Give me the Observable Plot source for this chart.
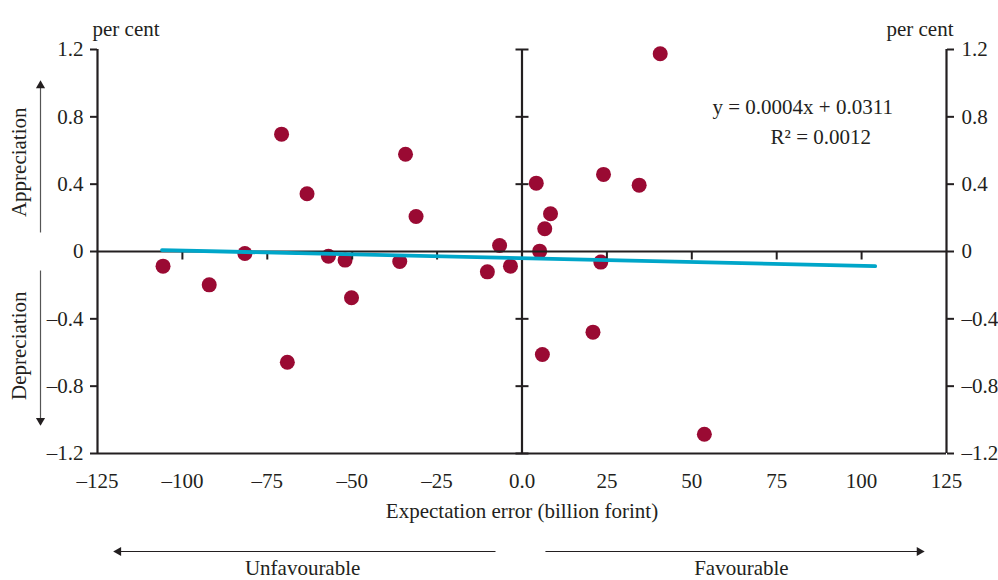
<!DOCTYPE html>
<html>
<head>
<meta charset="utf-8">
<script src="https://cdn.jsdelivr.net/npm/d3@7"></script>
<script src="https://cdn.jsdelivr.net/npm/@observablehq/plot@0.6"></script>
<style>
  html, body { margin: 0; padding: 0; background: #ffffff; }
  #chart { width: 998px; height: 580px; }
</style>
</head>
<body>
<div id="chart"></div>
<script>
// ---- data ----
const expectationError = [-105.7, -92.1, -81.6, -70.8, -69.1, -63.3, -57.0, -52.1, -50.2, -36.0, -34.3, -31.2, -10.2, -6.6, -3.4, 4.2, 5.2, 6.7, 8.4, 6.0, 20.9, 23.2, 24.0, 34.5, 40.7, 53.7];
const exchangeRateChange = [-0.087, -0.198, -0.012, 0.697, -0.658, 0.343, -0.028, -0.051, -0.275, -0.059, 0.578, 0.208, -0.121, 0.036, -0.087, 0.406, 0.002, 0.135, 0.224, -0.612, -0.479, -0.063, 0.458, 0.394, 1.175, -1.086];
const trendX = [-106, 104];
const trendY = [0.008, -0.087];
const xTicks = [-125, -100, -75, -50, -25, 0, 25, 50, 75, 100, 125];
const yTicks = [-1.2, -0.8, -0.4, 0, 0.4, 0.8, 1.2];
const innerXTicks = [-100, -75, -50, -25, 25, 50, 75, 100];
const innerYTicks = [-1.2, -0.8, -0.4, 0.4, 0.8, 1.2];
const equationLines = ["y = 0.0004x + 0.0311", "R\u00B2 = 0.0012"];
const equationX = [56.1, 73.2];
const equationY = [0.858, 0.68];
const directionLabels = ["Unfavourable", "Favourable"];
const directionX = [-64.6, 64.6];
const directionArrowFrom = [-7.8, 6.9];
const directionArrowTo = [-119.7, 117.9];
const moveLabels = ["Appreciation", "Depreciation"];
const moveLabelY = [0.53, -0.56];
const moveArrowFrom = [0.113, -0.113];
const moveArrowTo = [1.004, -1.022];

// ---- derived tables ----
const points = expectationError.map((x, i) => ({x, y: exchangeRateChange[i]}));
const trend = trendX.map((x, i) => ({x, y: trendY[i]}));
const eq = equationLines.map((t, i) => ({t, x: equationX[i], y: equationY[i]}));
const dirs = directionLabels.map((t, i) => ({t, x: directionX[i], from: directionArrowFrom[i], to: directionArrowTo[i]}));
const moves = moveLabels.map((t, i) => ({t, y: moveLabelY[i], from: moveArrowFrom[i], to: moveArrowTo[i]}));

const ink = "#231f20";
const dash = v => (v < 0 ? "\u2013" : "") + Math.abs(v);
const fmtX = v => v === 0 ? "0.0" : dash(v);
const fmtY = v => v === 0 ? "0" : dash(v);

const hTick = {draw(ctx, size) { const r = Math.sqrt(size / Math.PI); ctx.moveTo(-r, 0); ctx.lineTo(r, 0); }};
const vTickDown = {draw(ctx, size) { const r = Math.sqrt(size / Math.PI); ctx.moveTo(0, 0); ctx.lineTo(0, r); }};

const chart = Plot.plot({
  width: 998,
  height: 580,
  marginLeft: 97,
  marginRight: 52,
  marginTop: 49,
  marginBottom: 127,
  style: {fontFamily: "'Liberation Serif', 'Times New Roman', serif", fontSize: "21px", color: ink, background: "#ffffff"},
  x: {domain: [-125, 125]},
  y: {domain: [-1.2, 1.2]},
  marks: [
    Plot.dot(points, {x: "x", y: "y", r: 7.5, fill: "#9a0a33"}),
    Plot.ruleX([-125, 0, 125], {y1: -1.2, y2: 1.2, stroke: ink, strokeWidth: 2.2}),
    Plot.ruleY([-1.2, 0], {x1: -125, x2: 125, stroke: ink, strokeWidth: 2.2}),
    Plot.dot(innerYTicks, {x: 0, y: d => d, symbol: hTick, r: 6.5, stroke: ink, strokeWidth: 2, fill: "none"}),
    Plot.dot(innerXTicks, {x: d => d, y: 0, symbol: vTickDown, r: 8, stroke: ink, strokeWidth: 2, fill: "none"}),
    Plot.line(trend, {x: "x", y: "y", stroke: "#00a6c9", strokeWidth: 3.8}),
    Plot.axisY(yTicks, {anchor: "left", tickSize: 7, tickPadding: 7, tickFormat: fmtY, strokeWidth: 2, stroke: ink, fill: ink}),
    Plot.axisY(yTicks, {anchor: "right", tickSize: 7, tickPadding: 8, tickFormat: fmtY, strokeWidth: 2, stroke: ink, fill: ink}),
    Plot.axisX(xTicks, {anchor: "bottom", tickSize: 0, tickPadding: 20, tickFormat: fmtX, fill: ink}),
    Plot.text(["per cent"], {frameAnchor: "top-left", dx: -5, dy: -28.4, textAnchor: "start", fill: ink}),
    Plot.text(["per cent"], {frameAnchor: "top-right", dx: 7, dy: -28.4, textAnchor: "end", fill: ink}),
    Plot.text(["Expectation error (billion forint)"], {frameAnchor: "bottom", dy: 64.6, fill: ink}),
    Plot.text(eq, {x: "x", y: "y", text: "t", textAnchor: "start", fill: ink}),
    // bottom direction arrows
    Plot.link(dirs, {x1: "from", x2: "to", y1: -1.2, y2: -1.2, dy: 98, stroke: ink, strokeWidth: 1}),
    Plot.dot(dirs, {filter: d => d.to < 0, x: "to", y: -1.2, dy: 98, dx: 3, symbol: "triangle", rotate: -90, r: 3.4, fill: ink}),
    Plot.dot(dirs, {filter: d => d.to > 0, x: "to", y: -1.2, dy: 98, dx: -3, symbol: "triangle", rotate: 90, r: 3.4, fill: ink}),
    Plot.text(dirs, {x: "x", y: -1.2, text: "t", dy: 114.5, fill: ink}),
    // left vertical arrows
    Plot.link(moves, {x1: -125, x2: -125, y1: "from", y2: "to", dx: -57, stroke: "#555555", strokeWidth: 1.2}),
    Plot.dot(moves, {filter: d => d.to > 0, x: -125, y: "to", dx: -57, dy: 3, symbol: "triangle", rotate: 0, r: 3.4, fill: ink}),
    Plot.dot(moves, {filter: d => d.to < 0, x: -125, y: "to", dx: -57, dy: -3, symbol: "triangle", rotate: 180, r: 3.4, fill: ink}),
    Plot.text(moves, {x: -125, y: "y", text: "t", dx: -78.4, rotate: -90, fill: ink})
  ]
});
document.getElementById("chart").appendChild(chart);
</script>
</body>
</html>
